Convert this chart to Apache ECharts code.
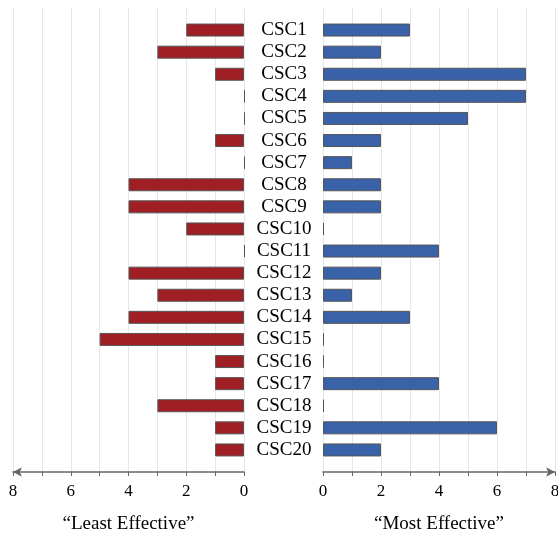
<!DOCTYPE html>
<html>
<head>
<meta charset="utf-8">
<script src="https://cdn.jsdelivr.net/npm/echarts@6/dist/echarts.min.js"></script>
<style>
html,body{margin:0;padding:0;background:#fff;}
#chart{width:558px;height:536px;}
</style>
</head>
<body>
<div id="chart"></div>
<script>
const categories = ['CSC1','CSC2','CSC3','CSC4','CSC5','CSC6','CSC7','CSC8','CSC9','CSC10',
  'CSC11','CSC12','CSC13','CSC14','CSC15','CSC16','CSC17','CSC18','CSC19','CSC20'];
const leastEffective = [2,3,1,0,0,1,0,4,4,2,0,4,3,4,5,1,1,3,1,1];
const mostEffective  = [3,2,7,7,5,2,1,2,2,0,4,2,1,3,0,0,4,0,6,2];
const tickValues = [0,2,4,6,8];
const leftTitle = '\u201CLeast Effective\u201D';
const rightTitle = '\u201CMost Effective\u201D';

const FONT = '"Liberation Serif", "DejaVu Serif", serif';
const chart = echarts.init(document.getElementById('chart'), null, {renderer:'canvas'});

function axisDecor(gridIndex, inverse, name, symbol){
  return {
    type:'value', gridIndex, min:0, max:8, interval:1, inverse,
    name, nameLocation:'middle', nameGap:43,
    nameTextStyle:{fontFamily:FONT, fontSize:19, color:'#000'},
    axisLine:{show:true, onZero:false, lineStyle:{color:'#666', width:1.5},
      symbol, symbolSize:[7,9]},
    axisTick:{show:true, length:4, lineStyle:{color:'#666', width:1}},
    axisLabel:{show:true, margin:11, fontFamily:FONT, fontSize:17, color:'#000',
      formatter: v => tickValues.includes(v) ? String(v) : ''},
    splitLine:{show:true, lineStyle:{color:'#e6e6e6', width:1}}
  };
}
function axisHidden(gridIndex, inverse){
  return {type:'value', gridIndex, min:0, max:8, interval:1, inverse, show:false,
    splitLine:{show:false}};
}

const option = {
  animation:false,
  backgroundColor:'#fff',
  grid:[
    {left:13, width:231, top:8, bottom:64, outerBoundsMode:'none', containLabel:false},
    {left:13, width:231, top:19, height:442, outerBoundsMode:'none', containLabel:false},
    {left:323, width:232, top:8, bottom:64, outerBoundsMode:'none', containLabel:false},
    {left:323, width:232, top:19, height:442, outerBoundsMode:'none', containLabel:false}
  ],
  xAxis:[
    axisDecor(0, true, leftTitle, ['arrow','none']),
    axisHidden(1, true),
    axisDecor(2, false, rightTitle, ['none','arrow']),
    axisHidden(3, false)
  ],
  yAxis:[
    {type:'value', gridIndex:0, show:false, splitLine:{show:false}},
    {type:'category', gridIndex:1, data:categories, inverse:true, position:'right',
      axisLine:{show:false}, axisTick:{show:false},
      axisLabel:{interval:0, margin:40, align:'center', fontFamily:FONT, fontSize:19, color:'#000'}},
    {type:'value', gridIndex:2, show:false, splitLine:{show:false}},
    {type:'category', gridIndex:3, data:categories, inverse:true, show:false}
  ],
  series:[
    {type:'bar', xAxisIndex:1, yAxisIndex:1, data:leastEffective, barWidth:13, barMinHeight:1,
      clip:false, itemStyle:{color:'#A01F24', borderColor:'#555', borderWidth:1}},
    {type:'bar', xAxisIndex:3, yAxisIndex:3, data:mostEffective, barWidth:13, barMinHeight:1,
      clip:false, itemStyle:{color:'#3A62A8', borderColor:'#555', borderWidth:1}}
  ]
};
chart.setOption(option);
</script>
</body>
</html>
